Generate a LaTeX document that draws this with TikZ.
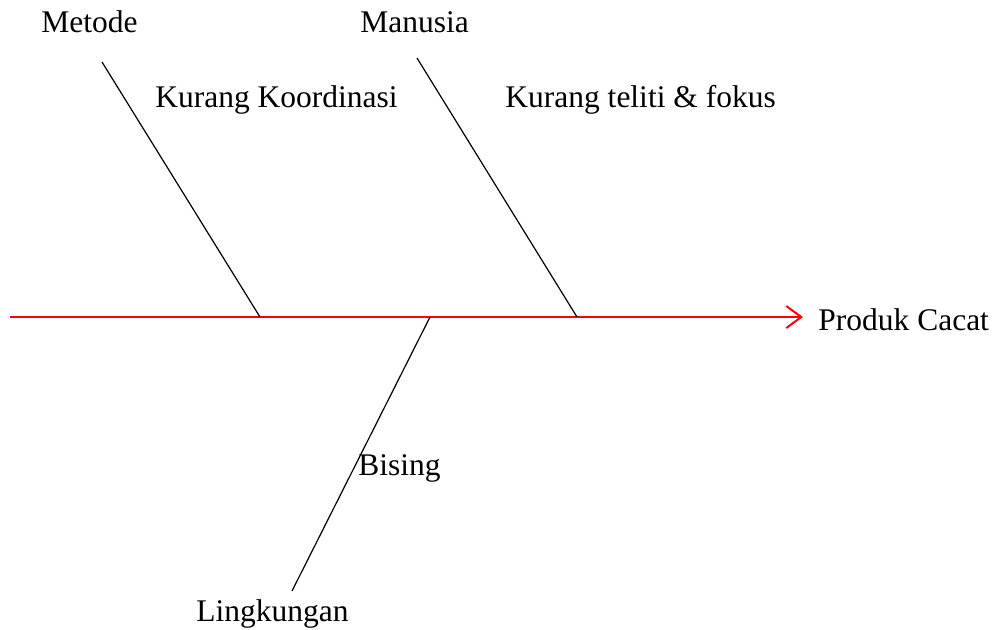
\documentclass[tikz,border=0pt]{standalone}
\usepackage{fontspec}
\setmainfont{Liberation Serif}
\usetikzlibrary{arrows.meta}
\begin{document}
\begin{tikzpicture}[x=0.5pt,y=-0.5pt,
  lbl/.style={anchor=base west,inner sep=0pt,font=\fontsize{15.75}{19}\selectfont},
  spine/.style={draw=red,line width=1pt,-{Straight Barb[length=7.5pt,width=11pt,line width=1pt]}},
  bone/.style={draw=black,line width=0.6pt}]
\useasboundingbox (0,0) rectangle (998,629);
% spine
\coordinate (tail) at (10,317);
\coordinate (tip) at (803,317);
\node[lbl] (effect) at (818,330) {Produk Cacat};
\draw[spine] (tail) -- (tip);
% joints
\coordinate (j1) at (260,317);
\coordinate (j2) at (577,317);
\coordinate (j3) at (430,317);
\coordinate (e1) at (102,62);
\coordinate (e2) at (417,58);
\coordinate (e3) at (292,591);
\draw[bone] (e1) -- (j1);
\draw[bone] (e2) -- (j2);
\draw[bone] (j3) -- (e3);
% labels
\node[lbl] (metode) at (41,32) {Metode};
\node[lbl] (manusia) at (360,32) {Manusia};
\node[lbl] (c1) at (155,107) {Kurang Koordinasi};
\node[lbl] (c2) at (505,107) {Kurang teliti \& fokus};
\node[lbl] (c3) at (358,475) {Bising};
\node[lbl] (lingk) at (196,621) {Lingkungan};
\end{tikzpicture}
\end{document}
